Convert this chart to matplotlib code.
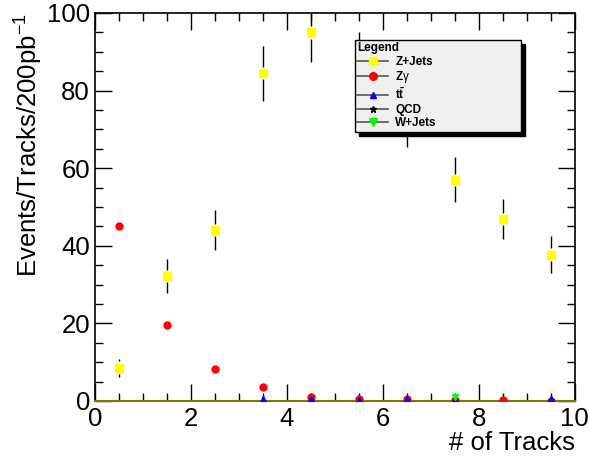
import numpy as np
import matplotlib
matplotlib.use("Agg")
import matplotlib.pyplot as plt
from matplotlib.lines import Line2D
from matplotlib.ticker import MultipleLocator

plt.rcParams['font.family'] = ['Liberation Sans', 'DejaVu Sans']
plt.rcParams['mathtext.fontset'] = 'custom'
plt.rcParams['mathtext.rm'] = 'Liberation Sans'
plt.rcParams['mathtext.it'] = 'Liberation Sans'
plt.rcParams['mathtext.bf'] = 'Liberation Sans:bold'

# bin centres (# of tracks)
tracks = [0.5, 1.5, 2.5, 3.5, 4.5, 5.5, 6.5, 7.5, 8.5, 9.5]

# values
zjets = [8.6, 32.2, 44.1, 84.5, 95.0, 88.0, 72.0, 57.0, 46.9, 37.7]
zjets_err = [2.3, 4.4, 5.1, 7.1, 7.6, 7.2, 6.5, 5.8, 5.2, 4.7]
zgamma = [45.2, 19.7, 8.2, 3.5, 1.0, 0.6, 0.4, 0.2, 0.2, 0.1]
ttbar = [np.nan, np.nan, np.nan, 0.4, 0.4, 0.3, 0.4, 0.6, np.nan, 0.5]
qcd = [np.nan] * 10
wjets = [np.nan, np.nan, np.nan, np.nan, np.nan, np.nan, np.nan, 1.0, np.nan, np.nan]

fig = plt.figure(figsize=(5.89, 4.63), dpi=100)
ax = fig.add_axes([0.161, 0.134, 0.815, 0.838])

# ROOT-style error bars with a gap around the marker
x = np.array(tracks)
y = np.array(zjets)
e = np.array(zjets_err)
gap = 1.6
ax.vlines(x, y + gap, np.minimum(y + e, 100), color='black', lw=1, zorder=2)
ax.vlines(x, np.maximum(y - e, 0), y - gap, color='black', lw=1, zorder=2)

ax.plot(tracks, zjets, 's', color='#ffff00', ms=6, mec='#ffff00', zorder=3)
ax.plot(tracks, zgamma, 'o', color='#ff0000', ms=5, mec='#ff0000', zorder=3)
ax.plot(tracks, ttbar, '^', color='#0000ff', ms=4.5, mec='#0000ff', zorder=3)
ax.plot(tracks, qcd, '*', color='black', ms=4, zorder=3)
ax.plot(tracks, wjets, 'v', color='#00ff00', ms=5, mec='#00ff00', zorder=3)

ax.set_xlim(0, 10)
ax.set_ylim(0, 100)
ax.xaxis.set_major_locator(MultipleLocator(2))
ax.xaxis.set_minor_locator(MultipleLocator(0.5))
ax.yaxis.set_major_locator(MultipleLocator(20))
ax.yaxis.set_minor_locator(MultipleLocator(5))
ax.tick_params(which='both', direction='in', top=True, right=True, labelsize=18.5, width=1)
ax.tick_params(which='major', length=12)
ax.tick_params(which='minor', length=6)
ax.tick_params(axis='x', which='major', pad=4)
for s in ax.spines.values():
    s.set_linewidth(1.2)
ax.spines['bottom'].set_color('#7a7a00')
ax.spines['bottom'].set_linewidth(1.5)

ax.set_ylabel('Events/Tracks/200pb$^{-1}$', fontsize=18.5, loc='top', labelpad=1)
ax.set_xlabel('# of Tracks', fontsize=18.5, loc='right', labelpad=0)

handles = [
    Line2D([], [], color='#555555', lw=1.2, marker='s', mfc='#ffff00', mec='#ffff00', ms=5.5),
    Line2D([], [], color='#555555', lw=1.2, marker='o', mfc='#ff0000', mec='#ff0000', ms=5.5),
    Line2D([], [], color='#555555', lw=1.2, marker='^', mfc='#0000ff', mec='#0000ff', ms=5),
    Line2D([], [], color='#555555', lw=1.2, marker='*', mfc='black', mec='black', ms=4.5),
    Line2D([], [], color='#555555', lw=1.2, marker='v', mfc='#00ff00', mec='#00ff00', ms=5.5),
]
labels = ['Z+Jets', r'$\mathbf{Z}\gamma$', r'$\mathbf{t\bar{t}}$', 'QCD', 'W+Jets']
leg = ax.legend(handles, labels, title='Legend', loc='upper left',
                bbox_to_anchor=(0.542, 0.698, 0.346, 0.232), mode='expand',
                fancybox=False, edgecolor='black',
                facecolor='#f0f0f0', framealpha=1, prop={'weight': 'bold', 'size': 8.5},
                title_fontproperties={'weight': 'bold', 'size': 8.5},
                handlelength=2.6, handletextpad=0.6, labelspacing=0.12, borderpad=0.2,
                borderaxespad=0,
                shadow={'color': 'black', 'alpha': 1, 'ox': 3, 'oy': -3})
leg._legend_box.align = 'left'
leg.get_frame().set_linewidth(1)
leg.set_zorder(5)

fig.savefig('out.png', dpi=100)
